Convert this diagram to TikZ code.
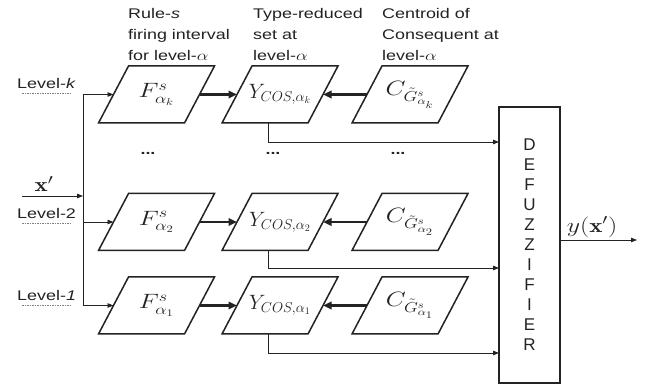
\documentclass[tikz,border=0pt]{standalone}
\usepackage{fontspec}
\usepackage{graphicx}
\usetikzlibrary{arrows.meta,calc}
\setsansfont{Liberation Sans}
\newfontfamily\lettersf{Liberation Sans}
\definecolor{ink}{RGB}{35,35,35}
\newcommand{\wm}[1]{\scalebox{1.25}[1]{$#1$}}
\newcommand{\wt}[1]{\scalebox{1.28}[1]{#1}}
\newcommand{\drawpara}[1]{\draw[boxline] ([xshift=-15pt]#1.south west) -- ([xshift=-15pt]#1.south east) -- ([xshift=15pt]#1.north east) -- ([xshift=15pt]#1.north west) -- cycle;}
\begin{document}
\begin{tikzpicture}[x=1pt,y=-1pt,
  boxline/.style={draw=ink,line width=1.5pt,line join=miter},
  parabox/.style={minimum width=86pt,minimum height=57pt,inner sep=0pt,outer sep=0pt,font=\fontsize{20}{24}\selectfont,text=ink},
  thickarrow/.style={draw=ink,line width=2.2pt,-{Triangle[length=8.5pt,width=7.5pt]}},
  thinline/.style={draw=ink,line width=0.9pt},
  thinarrow/.style={draw=ink,line width=0.9pt,-{Triangle[length=6pt,width=4.5pt]}},
  toplab/.style={anchor=north west,align=left,inner sep=0pt,text=ink,font=\sffamily\fontsize{14}{21}\selectfont},
  lvl/.style={anchor=west,inner sep=0pt,text=ink,font=\sffamily\fontsize{14}{17}\selectfont},
  under/.style={draw=gray,line width=0.8pt,dash pattern=on 1.5pt off 1pt},
  dotlab/.style={inner sep=0pt,text=ink,font=\sffamily\fontsize{14}{17}\selectfont\bfseries},
  mathlab/.style={inner sep=0pt,text=ink,font=\fontsize{20}{24}\selectfont}
]
\useasboundingbox (0,0) rectangle (648,387);
\fill[white] (0,0) rectangle (648,387);

% top labels
\node[toplab] (lab1) at (128,8.5) {\wt{Rule-\textit{s}}\\\wt{firing interval}\\\wt{for level-$\alpha$}};
\node[toplab] (lab2) at (253,8.5) {\wt{Type-reduced}\\\wt{set at}\\\wt{level-$\alpha$}};
\node[toplab] (lab3) at (382,8.5) {\wt{Centroid of}\\\wt{Consequent at}\\\wt{level-$\alpha$}};

% parallelogram nodes
\node[parabox] (Fk) at (156.5,94.5) {\wm{F^{s}_{\alpha_k}}};
\node[parabox] (Yk) at (280,94.5) {$Y_{COS,\alpha_k}$};
\node[parabox] (Ck) at (410,94.5) {\wm{C_{\tilde{G}^{s}_{\alpha_k}}}};
\node[parabox] (F2) at (156.5,222) {\wm{F^{s}_{\alpha_2}}};
\node[parabox] (Y2) at (280,222) {$Y_{COS,\alpha_2}$};
\node[parabox] (C2) at (410,222) {\wm{C_{\tilde{G}^{s}_{\alpha_2}}}};
\node[parabox] (F1) at (156.5,305.5) {\wm{F^{s}_{\alpha_1}}};
\node[parabox] (Y1) at (280,305.5) {$Y_{COS,\alpha_1}$};
\node[parabox] (C1) at (410,305.5) {\wm{C_{\tilde{G}^{s}_{\alpha_1}}}};
\drawpara{Fk}\drawpara{Yk}\drawpara{Ck}
\drawpara{F2}\drawpara{Y2}\drawpara{C2}
\drawpara{F1}\drawpara{Y1}\drawpara{C1}

% dots
\node[dotlab] (d1) at (148,153) {\wt{...}};
\node[dotlab] (d2) at (273,153) {\wt{...}};
\node[dotlab] (d3) at (398,153) {\wt{...}};

% defuzzifier
\node[draw=ink,line width=1.5pt,minimum width=61pt,minimum height=276pt,inner sep=0pt,align=center,text=ink,
  font=\lettersf\fontsize{17}{20}\selectfont] (defz) at (529.5,245)
  {D\\E\\F\\U\\Z\\Z\\I\\F\\I\\E\\R};

% thick arrows
\draw[thickarrow] (Fk.east) -- (Yk.west);
\draw[thickarrow] (Ck.west) -- (Yk.east);
\draw[thickarrow] (F2.east) -- (Y2.west);
\draw[thickarrow] (C2.west) -- (Y2.east);
\draw[thickarrow] (F1.east) -- (Y1.west);
\draw[thickarrow] (C1.west) -- (Y1.east);

% input bus
\coordinate (bk) at (83,94.5);
\coordinate (b2) at (83,222);
\coordinate (b1) at (83,305.5);
\draw[thinline] (bk) -- (b1);
\draw[thinarrow] (bk) -- (Fk.west);
\draw[thinarrow] (b2) -- (F2.west);
\draw[thinarrow] (b1) -- (F1.west);
\coordinate (xin) at (22,196);
\coordinate (xbus) at (83,196);
\draw[thinarrow] (xin) -- (xbus);
\node[mathlab] (xlab) at (44,184) {\wm{\mathbf{x}'}};

% level labels
\node[lvl] (lk) at (17,83) {\scalebox{1.28}[1]{Level-\textit{k}}};
\node[lvl] (l2) at (17,213) {\scalebox{1.28}[1]{Level-2}};
\node[lvl] (l1) at (17,295) {\scalebox{1.28}[1]{Level-\textit{1}}};
\draw[under] (22,93) -- (72,93);
\draw[under] (22,223) -- (72,223);
\draw[under] (22,305) -- (72,305);

% to defuzzifier
\coordinate (dk) at (499,142);
\coordinate (dm) at (499,268);
\coordinate (dl) at (499,353);
\draw[thinarrow] ([xshift=-12pt]Yk.south) |- (dk);
\draw[thinarrow] ([xshift=-12pt]Y2.south) |- (dm);
\draw[thinarrow] ([xshift=-12pt]Y1.south) |- (dl);

% output
\coordinate (yout) at (637,240);
\draw[thinarrow] (defz.east |- yout) -- (yout);
\node[mathlab] (ylab) at (592,227) {\wm{y(\mathbf{x}')}};
\end{tikzpicture}
\end{document}
